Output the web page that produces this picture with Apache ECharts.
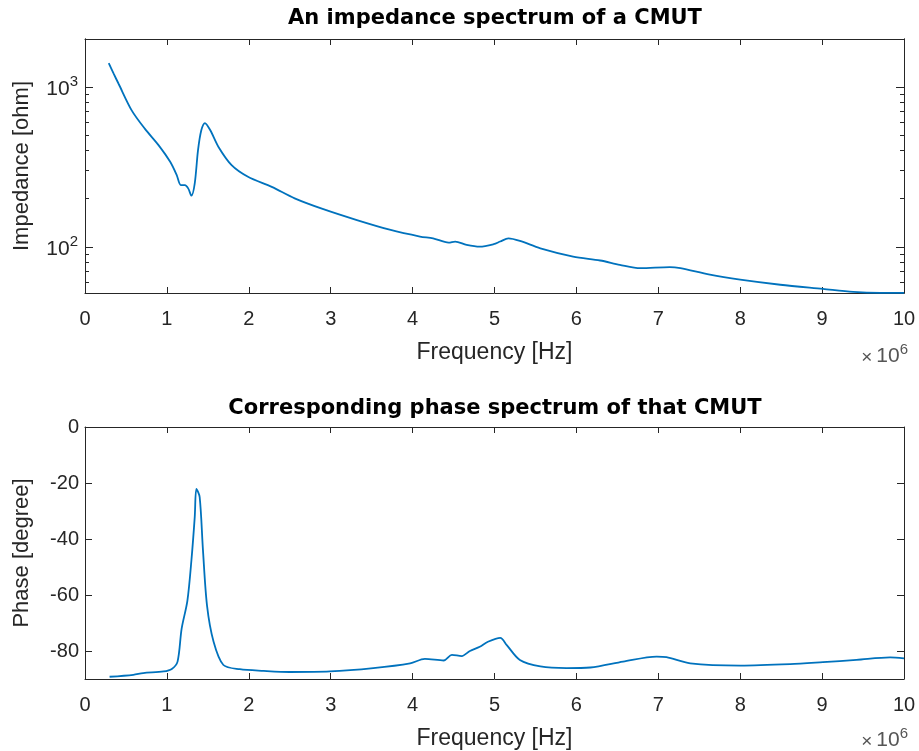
<!DOCTYPE html>
<html>
<head>
<meta charset="utf-8">
<script src="https://cdn.jsdelivr.net/npm/echarts@6/dist/echarts.min.js"></script>
<style>
  html, body { margin: 0; padding: 0; background: #fff; }
  #container { width: 919px; height: 751px; }
</style>
</head>
<body>
<div id="container"></div>
<script>
// frequency in units of 1e6 Hz (axis shows x10^6)
var freqZ = [0.29, 0.35, 0.41, 0.57, 0.73, 0.90, 1.04, 1.12, 1.17, 1.22, 1.26, 1.30, 1.34, 1.38, 1.42, 1.465, 1.53, 1.63, 1.79, 1.99,
  2.28, 2.56, 2.91, 3.32, 3.72, 4.09, 4.25, 4.44, 4.52, 4.66, 4.82, 4.99, 5.07, 5.17, 5.31, 5.56, 5.96, 6.29, 6.53, 6.78,
  7.14, 7.27, 7.63, 8.0, 8.49, 9.01, 9.38, 9.71, 10.0];
var impedance = [1406, 1208, 1045, 713, 548, 431, 340, 281, 243, 243, 232, 209, 249, 402, 535, 594, 535, 421, 324, 274,
  237, 201, 172, 147, 128, 116, 113, 106.4, 108, 103, 100.4, 104, 108, 113, 109, 98, 87, 82.2, 77.3, 73.6,
  74.8, 73.6, 67, 62.4, 58, 54.6, 52.3, 51.6, 51.6];

var freqP = [0.30, 0.59, 0.71, 0.96, 1.06, 1.13, 1.18, 1.25, 1.30, 1.34, 1.36, 1.40, 1.44, 1.49, 1.57, 1.69, 1.89, 2.18, 2.50, 2.99,
  3.52, 3.97, 4.15, 4.38, 4.48, 4.60, 4.70, 4.82, 4.92, 5.07, 5.15, 5.31, 5.56, 5.88, 6.17, 6.57, 6.98, 7.10, 7.39, 8.0,
  8.61, 9.01, 9.42, 9.83, 10.0];
var phase = [-89.2, -88.5, -87.9, -87.3, -86.4, -83.8, -72.0, -62.1, -47.4, -32.1, -22.1, -25, -43.8, -63.8, -76.7, -85, -86.5, -87.1, -87.5, -87.3,
  -86.1, -84.4, -82.8, -83.4, -81.4, -81.8, -80, -78.5, -76.7, -75.3, -77.9, -83.2, -85.5, -86.1, -85.9, -83.8, -82.0, -82.2, -84.4, -85.2,
  -84.7, -84.0, -83.2, -82.3, -82.6];

var zMajor = [100, 1000];
var zMinor = [60, 70, 80, 90, 200, 300, 400, 500, 600, 700, 800, 900];
var phaseTicks = [-80, -60, -40, -20, 0];

var ink = '#262626';
var font = '"Liberation Sans", Arial, sans-serif';
var titleFont = '"DejaVu Sans", "Liberation Sans", sans-serif';

var grids = [
  { left: 85, top: 39, width: 819, height: 254 },
  { left: 85, top: 427, width: 819, height: 252 }
];

function xAx(gi, pos, labels) {
  return {
    type: 'value', gridIndex: gi, position: pos, min: 0, max: 10, interval: 1,
    name: labels ? 'Frequency [Hz]' : '', nameLocation: 'middle', nameGap: 48,
    nameTextStyle: { color: ink, fontSize: 23, fontFamily: font },
    axisLine: { show: true, onZero: false, lineStyle: { color: ink, width: 1 } },
    axisTick: { show: true, inside: true, length: 6, lineStyle: { color: ink } },
    axisLabel: { show: labels, color: ink, fontSize: 20, fontFamily: font, margin: 16 },
    splitLine: { show: false }
  };
}

function powLabel(v) {
  return '{b|10}{s|' + Math.round(Math.log10(v)) + '}';
}

function zAx(pos, ticks, len, labels) {
  return {
    type: 'log', gridIndex: 0, position: pos, min: 51.5, max: 1990,
    name: labels ? 'Impedance [ohm]' : '', nameLocation: 'middle', nameGap: 52,
    nameTextStyle: { color: ink, fontSize: 22, fontFamily: font },
    axisLine: { show: true, onZero: false, lineStyle: { color: ink, width: 1 } },
    axisTick: { show: true, inside: true, length: len, customValues: ticks, lineStyle: { color: ink } },
    axisLabel: {
      show: labels, customValues: ticks, margin: 7, formatter: powLabel,
      rich: {
        b: { color: ink, fontSize: 21, fontFamily: font, verticalAlign: 'bottom' },
        s: { color: ink, fontSize: 15, fontFamily: font, verticalAlign: 'bottom', padding: [0, 0, 10, 0] }
      }
    },
    splitLine: { show: false }, minorTick: { show: false }
  };
}

function pAx(pos, labels) {
  return {
    type: 'value', gridIndex: 1, position: pos, min: -90, max: 0,
    name: labels ? 'Phase [degree]' : '', nameLocation: 'middle', nameGap: 52,
    nameTextStyle: { color: ink, fontSize: 22, fontFamily: font },
    axisLine: { show: true, onZero: false, lineStyle: { color: ink, width: 1 } },
    axisTick: { show: true, inside: true, length: 7, customValues: phaseTicks, lineStyle: { color: ink } },
    axisLabel: { show: labels, customValues: phaseTicks, color: ink, fontSize: 20, fontFamily: font, margin: 6 },
    splitLine: { show: false }
  };
}

function pairs(xs, ys) {
  return xs.map(function (x, i) { return [x, ys[i]]; });
}

var expRich = {
  m: { fill: '#555', fontSize: 19, fontFamily: font, verticalAlign: 'bottom', padding: [0, 4, 0, 0] },
  b: { fill: '#555', fontSize: 21, fontFamily: font, verticalAlign: 'bottom' },
  s: { fill: '#555', fontSize: 15, fontFamily: font, verticalAlign: 'bottom', padding: [0, 0, 10, 0] }
};

var option = {
  backgroundColor: '#fff',
  animation: false,
  grid: grids,
  xAxis: [xAx(0, 'bottom', true), xAx(0, 'top', false), xAx(1, 'bottom', true), xAx(1, 'top', false)],
  yAxis: [
    zAx('left', zMajor, 8, true),
    zAx('left', zMinor, 4, false),
    zAx('right', zMajor, 8, false),
    zAx('right', zMinor, 4, false),
    pAx('left', true),
    pAx('right', false)
  ],
  series: [
    {
      type: 'line', xAxisIndex: 0, yAxisIndex: 0, data: pairs(freqZ, impedance),
      showSymbol: false, smooth: 0.3,
      lineStyle: { color: '#0072BD', width: 1.8 }
    },
    {
      type: 'line', xAxisIndex: 2, yAxisIndex: 4, data: pairs(freqP, phase),
      showSymbol: false, smooth: 0.3,
      lineStyle: { color: '#0072BD', width: 1.8 }
    }
  ],
  graphic: [
    { type: 'text', x: 495, y: 19, style: { text: 'An impedance spectrum of a CMUT', fill: '#000', font: 'bold 21px ' + titleFont, textAlign: 'center', textVerticalAlign: 'middle' } },
    { type: 'text', x: 495, y: 409, style: { text: 'Corresponding phase spectrum of that CMUT', fill: '#000', font: 'bold 21px ' + titleFont, textAlign: 'center', textVerticalAlign: 'middle' } },
    // x10^6 exponent labels
    { type: 'text', x: 908, y: 367, style: { text: '{m|\u00d7}{b|10}{s|6}', textAlign: 'right', textVerticalAlign: 'bottom', rich: expRich } },
    { type: 'text', x: 908, y: 751, style: { text: '{m|\u00d7}{b|10}{s|6}', textAlign: 'right', textVerticalAlign: 'bottom', rich: expRich } }
  ]
};

var chart = echarts.init(document.getElementById('container'));
chart.setOption(option);
</script>
</body>
</html>
